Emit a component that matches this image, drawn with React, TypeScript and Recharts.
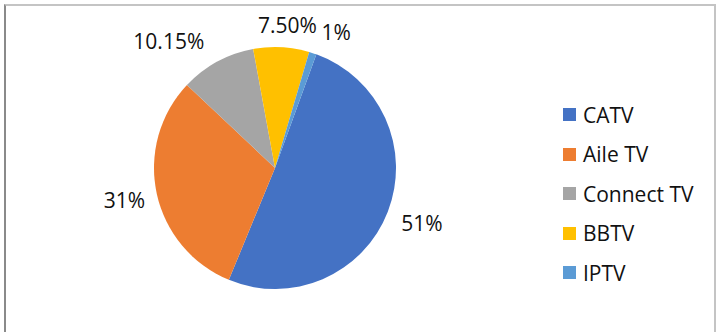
import React from "react";
import { PieChart, Pie, Cell, Legend } from "recharts";

// Market share of TV platforms
const platforms = ["CATV", "Aile TV", "Connect TV", "BBTV", "IPTV"];
const shares = [51, 31, 10.15, 7.5, 1];
const shareLabels = ["51%", "31%", "10.15%", "7.50%", "1%"];
const colors = ["#4472C4", "#ED7D31", "#A5A5A5", "#FFC000", "#5B9BD5"];

// label placement tweaks (degrees, px) so the small slices' labels don't collide
const labelAngleShift = [0.5, 0, 11.5, -2, -6];
const labelRadiusShift = [2, -1, 10, -12, -6];

const data = platforms.map((name, i) => ({ name, value: shares[i], label: shareLabels[i] }));

const FONT = "'Open Sans', sans-serif";
const RAD = Math.PI / 180;

const renderLabel = (props: any) => {
  const { cx, cy, midAngle, outerRadius, index } = props;
  const a = (midAngle + labelAngleShift[index]) * RAD;
  const r = outerRadius + 34 + labelRadiusShift[index];
  const x = cx + r * Math.cos(a);
  const y = cy - r * Math.sin(a);
  return (
    <text
      x={x}
      y={y}
      dy={7.5}
      textAnchor="middle"
      fontFamily={FONT}
      fontSize={21}
      fill="#111"
    >
      {data[index].label}
    </text>
  );
};

const LegendList = () => (
  <div style={{ fontFamily: FONT, fontSize: 21, color: "#111" }}>
    {platforms.map((name, i) => (
      <div
        key={name}
        style={{ display: "flex", alignItems: "center", height: 39.5, whiteSpace: "nowrap" }}
      >
        <span
          style={{
            display: "inline-block",
            width: 13,
            height: 13,
            background: colors[i],
            marginRight: 7,
          }}
        />
        <span>{name}</span>
      </div>
    ))}
  </div>
);

export default function App() {
  return (
    <div style={{ position: "fixed", left: 0, top: 0, width: 728, height: 332, background: "#fff", overflow: "hidden" }}>
      <div
        style={{
          position: "absolute",
          left: 4,
          top: 4,
          width: 708,
          height: 330,
          borderTop: "2px solid #c4c4c4",
          borderLeft: "2px solid #8a8a8a",
          borderRight: "2px solid #c4c4c4",
        }}
      />
      <div style={{ position: "absolute", left: 0, top: 0 }}>
        <PieChart width={728} height={332} margin={{ top: 0, right: 0, bottom: 0, left: 0 }}>
          <Pie
            data={data}
            dataKey="value"
            nameKey="name"
            cx={275}
            cy={168}
            outerRadius={121}
            startAngle={70}
            endAngle={-290}
            stroke="none"
            label={renderLabel}
            labelLine={false}
            isAnimationActive={false}
          >
            {data.map((d, i) => (
              <Cell key={d.name} fill={colors[i]} />
            ))}
          </Pie>
          <Legend
            layout="vertical"
            verticalAlign="top"
            align="right"
            wrapperStyle={{ left: 563, top: 95, right: "auto", width: 150 }}
            content={() => <LegendList />}
          />
        </PieChart>
      </div>
    </div>
  );
}
